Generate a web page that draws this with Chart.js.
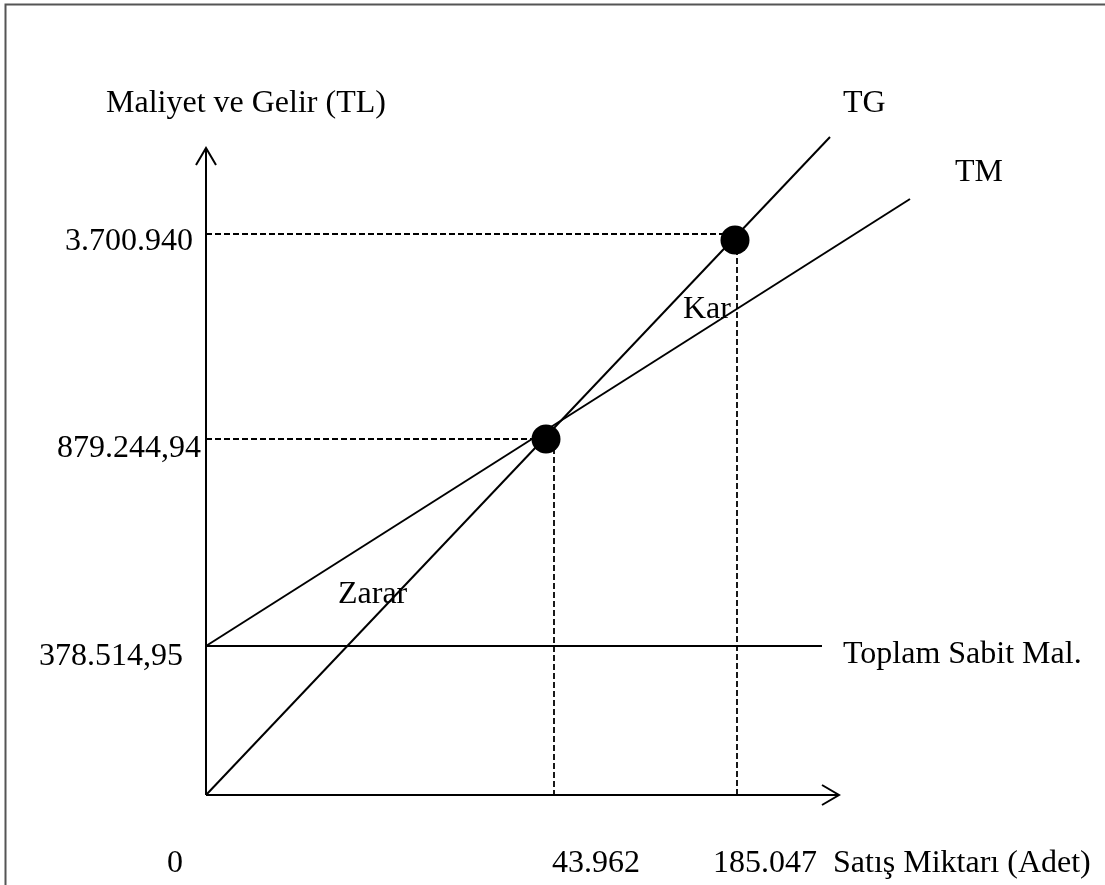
<!DOCTYPE html>
<html><head><meta charset="utf-8">
<script src="https://cdn.jsdelivr.net/npm/chart.js@4/dist/chart.umd.min.js"></script>
<style>html,body{margin:0;padding:0;background:#fff;} #wrap{width:1105px;height:885px;position:relative;} canvas{display:block;}</style>
</head><body><div id="wrap"><canvas id="c" width="1105" height="885"></canvas></div>
<script>
// Schematic break-even diagram (not to scale): positions are in diagram units
const xTickLabels = ['0', '43.962', '185.047'];
const xTickPos = [0, 348, 531];
const yTickLabels = ['378.514,95', '879.244,94', '3.700.940'];
const yTickPos = [149, 356, 561];

const revenueLine = [{x: 0, y: 0}, {x: 624, y: 658}];      // TG
const costLine = [{x: 0, y: 149}, {x: 704, y: 596}];       // TM
const fixedCostLine = [{x: 0, y: 149}, {x: 616, y: 149}];  // Toplam Sabit Mal.
const breakEvenPoint = [{x: 340, y: 356}];
const targetPoint = [{x: 529, y: 555}];

const yAxisLine = [{x: 0, y: 0}, {x: 0, y: 647}];
const yArrow = [{x: -10, y: 630}, {x: 0, y: 647}, {x: 10, y: 630}];
const xAxisLine = [{x: 0, y: 0}, {x: 633, y: 0}];
const xArrow = [{x: 616, y: 10}, {x: 633, y: 0}, {x: 616, y: -10}];

const beHoriz = [{x: 0, y: 356}, {x: 340, y: 356}];
const beVert = [{x: 348, y: 356}, {x: 348, y: 0}];
const tHoriz = [{x: 0, y: 561}, {x: 529, y: 561}];
const tVert = [{x: 531, y: 555}, {x: 531, y: 0}];

const FONT = '32px "Liberation Serif", "Times New Roman", serif';

function solid(data, w) {
  return {data, showLine: true, borderColor: '#000', borderWidth: w || 2, pointRadius: 0, fill: false, tension: 0};
}
function dashed(data) {
  return {data, showLine: true, borderColor: '#000', borderWidth: 1.8, borderDash: [6, 3], pointRadius: 0, fill: false, tension: 0};
}
function dot(data) {
  return {data, showLine: false, pointRadius: 14.5, pointHoverRadius: 14.5, backgroundColor: '#000', borderColor: '#000', borderWidth: 0};
}

const framePlugin = {
  id: 'frame',
  beforeDraw(chart) {
    const c = chart.ctx;
    c.save();
    c.fillStyle = '#fff';
    c.fillRect(0, 0, chart.width, chart.height);
    c.strokeStyle = '#555';
    c.lineWidth = 2;
    c.beginPath();
    c.moveTo(5.5, 885); c.lineTo(5.5, 4.5); c.lineTo(1105, 4.5);
    c.stroke();
    c.restore();
  }
};

const labelPlugin = {
  id: 'labels',
  afterDraw(chart) {
    const c = chart.ctx, xs = chart.scales.x, ys = chart.scales.y;
    c.save();
    c.font = FONT;
    c.fillStyle = '#000';
    c.textBaseline = 'alphabetic';
    const x0 = xs.getPixelForValue(0);
    // y tick labels (right aligned)
    c.textAlign = 'right';
    const yRight = [x0 - 23, x0 - 5, x0 - 13];
    const yOff = [19, 18, 16];
    yTickLabels.forEach((t, i) => c.fillText(t, yRight[i], ys.getPixelForValue(yTickPos[i]) + yOff[i]));
    // x tick labels
    c.textAlign = 'left';
    const xStart = [x0 - 39, xs.getPixelForValue(xTickPos[1]) - 2, xs.getPixelForValue(xTickPos[2]) - 24];
    const xb = ys.getPixelForValue(0) + 77;
    xTickLabels.forEach((t, i) => c.fillText(t, xStart[i], xb));
    c.fillText('Satış Miktarı (Adet)', xs.getPixelForValue(627), xb);
    // axis title
    c.fillText('Maliyet ve Gelir (TL)', x0 - 100, ys.getPixelForValue(683));
    // line labels
    c.fillText('TG', xs.getPixelForValue(637), ys.getPixelForValue(683));
    c.fillText('TM', xs.getPixelForValue(749), ys.getPixelForValue(614));
    c.fillText('Toplam Sabit Mal.', xs.getPixelForValue(637), ys.getPixelForValue(132));
    c.fillText('Zarar', xs.getPixelForValue(132), ys.getPixelForValue(192));
    c.fillText('Kar', xs.getPixelForValue(477), ys.getPixelForValue(477));
    c.restore();
  }
};

new Chart(document.getElementById('c'), {
  type: 'scatter',
  data: {
    datasets: [
      solid(yAxisLine), solid(yArrow), solid(xAxisLine), solid(xArrow),
      solid(fixedCostLine), solid(revenueLine), solid(costLine),
      dashed(beHoriz), dashed(beVert), dashed(tHoriz), dashed(tVert),
      dot(breakEvenPoint), dot(targetPoint)
    ]
  },
  options: {
    responsive: false,
    animation: false,
    devicePixelRatio: 1,
    layout: {padding: 0, autoPadding: false},
    events: [],
    plugins: {legend: {display: false}, tooltip: {enabled: false}},
    scales: {
      x: {type: 'linear', min: -206, max: 899, display: false},
      y: {type: 'linear', min: -90, max: 795, display: false}
    }
  },
  plugins: [framePlugin, labelPlugin]
});
</script>
</body></html>
